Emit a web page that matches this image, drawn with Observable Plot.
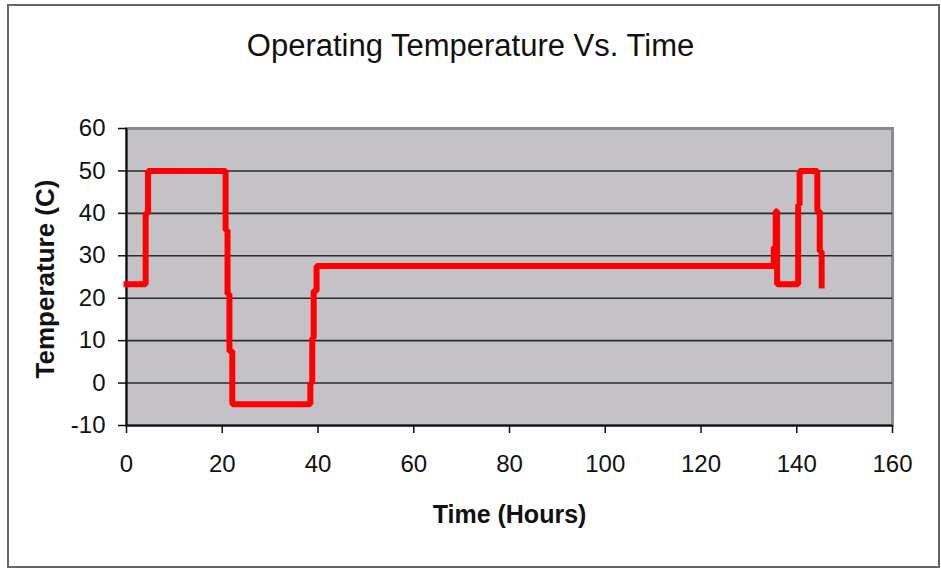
<!DOCTYPE html>
<html>
<head>
<meta charset="utf-8">
<script src="https://cdn.jsdelivr.net/npm/d3@7"></script>
<script src="https://cdn.jsdelivr.net/npm/@observablehq/plot@0.6"></script>
<style>
  html, body { margin: 0; padding: 0; background: #fff; }
  #wrap { position: relative; width: 941px; height: 569px; overflow: hidden; font-family: "Liberation Sans", Arial, sans-serif; }
  #border { position: absolute; left: 7px; top: 4px; width: 929px; height: 560px; border: 2px solid #666; box-sizing: content-box; }
  #title { position: absolute; left: 0; top: 31px; width: 941px; text-align: center; font-size: 31px; line-height: 30px; color: #111; }
  #chart { position: absolute; left: 0; top: 100px; }
</style>
</head>
<body>
<div id="wrap">
  <div id="border"></div>
  <div id="title">Operating Temperature Vs. Time</div>
  <div id="chart"></div>
</div>
<script>
// Data (time in hours, temperature in °C)
const timeHours = [0, 4, 4, 4.5, 4.5, 20.7, 20.7, 21.1, 21.1, 21.5, 21.5, 22.1, 22.1, 38.4, 38.4, 38.8, 38.8, 39.1, 39.1, 39.7, 39.7, 135.2, 135.2, 135.6, 135.6, 135.9, 135.9, 140.3, 140.3, 140.6, 140.6, 144.3, 144.3, 144.8, 144.8, 145.2, 145.2];
const temperatureC = [23.3, 23.3, 40, 40, 50, 50, 36, 36, 21, 21, 7.5, 7.5, -5, -5, 0, 0, 10.6, 10.6, 21.7, 21.7, 27.6, 27.6, 32, 32, 40.5, 40.5, 23.3, 23.3, 42, 42, 50, 50, 40.5, 40.5, 31, 31, 23];
const xTicks = [0, 20, 40, 60, 80, 100, 120, 140, 160];
const yTicks = [-10, 0, 10, 20, 30, 40, 50, 60];
const xLabel = "Time (Hours)";
const yLabel = "Temperature (C)";

const series = timeHours.map((t, i) => ({t, v: temperatureC[i]}));

const chart = Plot.plot({
  width: 941,
  height: 469,
  marginLeft: 126,
  marginRight: 49,
  marginTop: 28,
  marginBottom: 144,
  style: {fontFamily: "'Liberation Sans', Arial, sans-serif", fontSize: "24px", color: "#111", background: "transparent"},
  x: {domain: [0, 160]},
  y: {domain: [-10, 60]},
  marks: [
    Plot.frame({fill: "#c4c2c6", stroke: "#8a8a8a", strokeWidth: 3}),
    Plot.ruleY(yTicks.filter(d => d > -10 && d < 60), {stroke: "#2a2a2a", strokeWidth: 1.6}),
    Plot.ruleX([0], {stroke: "#111", strokeWidth: 2}),
    Plot.ruleY([-10], {stroke: "#111", strokeWidth: 2}),
    Plot.axisX({ticks: xTicks, tickSize: 8, tickPadding: 21, tickFormat: d => String(d), label: null, stroke: "#111", strokeWidth: 1.5, fontSize: 24}),
    Plot.axisY({ticks: yTicks, tickSize: 8, tickPadding: 13, tickFormat: d => String(d), label: null, stroke: "#111", strokeWidth: 1.5, fontSize: 24}),
    Plot.line(series, {x: "t", y: "v", stroke: "#ff0000", strokeWidth: 6, strokeLinejoin: "miter", strokeLinecap: "square"}),
    Plot.text([xLabel], {frameAnchor: "bottom", dy: 97, fontWeight: "bold", fontSize: 25, fill: "#111"}),
    Plot.text([yLabel], {frameAnchor: "left", dx: -81, dy: 2, rotate: -90, textAnchor: "middle", fontWeight: "bold", fontSize: 26, fill: "#111"})
  ]
});
document.getElementById("chart").appendChild(chart);
</script>
</body>
</html>
